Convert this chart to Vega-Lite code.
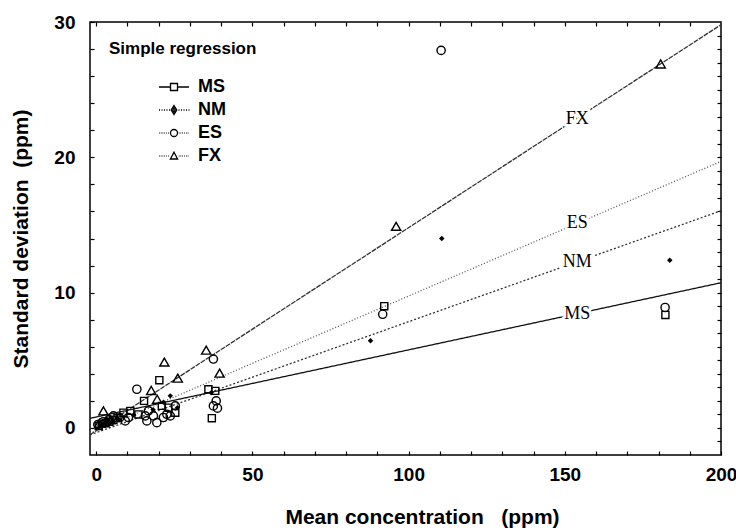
{
  "$schema": "https://vega.github.io/schema/vega-lite/v6.json",
  "width": 631,
  "height": 433,
  "autosize": {"type": "none"},
  "padding": {"left": 90, "top": 22, "right": 15, "bottom": 75},
  "background": "white",
  "config": {
    "view": {"stroke": "black", "strokeWidth": 1.5},
    "font": "Liberation Sans"
  },
  "datasets": {
    "lines": [
      {"series": "MS", "x": -2, "y": 0.71}, {"series": "MS", "x": 200, "y": 10.73},
      {"series": "NM", "x": -2, "y": -0.51}, {"series": "NM", "x": 200, "y": 16.05},
      {"series": "ES", "x": -2, "y": -0.4}, {"series": "ES", "x": 200, "y": 19.7},
      {"series": "FX", "x": -2, "y": -0.5}, {"series": "FX", "x": 200, "y": 29.8}
    ],
    "labels": [
      {"series": "MS", "x": 154, "y": 8.45},
      {"series": "NM", "x": 154, "y": 12.28},
      {"series": "ES", "x": 154, "y": 15.15},
      {"series": "FX", "x": 154, "y": 22.8}
    ],
    "points": [
      {"series": "MS", "x": 0.8, "y": 0.15}, {"series": "MS", "x": 1.8, "y": 0.3}, {"series": "MS", "x": 3, "y": 0.35},
      {"series": "MS", "x": 4.2, "y": 0.45}, {"series": "MS", "x": 5.5, "y": 0.6}, {"series": "MS", "x": 6.8, "y": 0.75},
      {"series": "MS", "x": 8.7, "y": 1.13}, {"series": "MS", "x": 10.9, "y": 1.26}, {"series": "MS", "x": 13.5, "y": 1.0},
      {"series": "MS", "x": 15.3, "y": 2.0}, {"series": "MS", "x": 20.2, "y": 3.53}, {"series": "MS", "x": 21.0, "y": 1.63},
      {"series": "MS", "x": 23.1, "y": 1.5}, {"series": "MS", "x": 25.3, "y": 1.13}, {"series": "MS", "x": 35.9, "y": 2.86},
      {"series": "MS", "x": 38.1, "y": 2.74}, {"series": "MS", "x": 37.0, "y": 0.72}, {"series": "MS", "x": 92.2, "y": 9.0},
      {"series": "MS", "x": 182.2, "y": 8.35},
      {"series": "NM", "x": 1.2, "y": 0.2}, {"series": "NM", "x": 2.6, "y": 0.3}, {"series": "NM", "x": 3.8, "y": 0.45},
      {"series": "NM", "x": 5.2, "y": 0.5}, {"series": "NM", "x": 7.2, "y": 0.65}, {"series": "NM", "x": 12, "y": 0.95},
      {"series": "NM", "x": 18.2, "y": 1.35}, {"series": "NM", "x": 21.5, "y": 1.9}, {"series": "NM", "x": 23.7, "y": 2.37},
      {"series": "NM", "x": 26, "y": 1.5}, {"series": "NM", "x": 36.8, "y": 2.6}, {"series": "NM", "x": 87.8, "y": 6.45},
      {"series": "NM", "x": 110.6, "y": 14.0}, {"series": "NM", "x": 183.6, "y": 12.4},
      {"series": "ES", "x": 0.5, "y": 0.25}, {"series": "ES", "x": 2.2, "y": 0.45}, {"series": "ES", "x": 4.0, "y": 0.6},
      {"series": "ES", "x": 5.5, "y": 0.89}, {"series": "ES", "x": 7.5, "y": 0.75}, {"series": "ES", "x": 9.3, "y": 0.52},
      {"series": "ES", "x": 10.3, "y": 0.77}, {"series": "ES", "x": 13.0, "y": 2.86}, {"series": "ES", "x": 15.7, "y": 0.89},
      {"series": "ES", "x": 16.2, "y": 0.52}, {"series": "ES", "x": 16.7, "y": 1.26}, {"series": "ES", "x": 18.3, "y": 0.89},
      {"series": "ES", "x": 19.4, "y": 0.39}, {"series": "ES", "x": 21.5, "y": 0.77}, {"series": "ES", "x": 22.6, "y": 1.01},
      {"series": "ES", "x": 23.7, "y": 0.89}, {"series": "ES", "x": 25.3, "y": 1.63}, {"series": "ES", "x": 37.5, "y": 5.09},
      {"series": "ES", "x": 38.4, "y": 2.0}, {"series": "ES", "x": 37.5, "y": 1.63}, {"series": "ES", "x": 38.8, "y": 1.46},
      {"series": "ES", "x": 91.7, "y": 8.4}, {"series": "ES", "x": 110.4, "y": 27.9}, {"series": "ES", "x": 182.1, "y": 8.9},
      {"series": "FX", "x": 1.0, "y": 0.35}, {"series": "FX", "x": 2.3, "y": 1.26}, {"series": "FX", "x": 3.3, "y": 0.5},
      {"series": "FX", "x": 4.6, "y": 0.6}, {"series": "FX", "x": 17.6, "y": 2.77}, {"series": "FX", "x": 19.5, "y": 2.12},
      {"series": "FX", "x": 21.8, "y": 4.87}, {"series": "FX", "x": 26.1, "y": 3.68}, {"series": "FX", "x": 35.2, "y": 5.75},
      {"series": "FX", "x": 39.5, "y": 4.05}, {"series": "FX", "x": 96.0, "y": 14.9}, {"series": "FX", "x": 180.7, "y": 26.9}
    ]
  },
  "layer": [
    {
      "data": {"name": "lines"},
      "mark": {"type": "line", "strokeWidth": 1.3, "clip": true},
      "encoding": {
        "x": {
          "field": "x", "type": "quantitative",
          "scale": {"domain": [-2, 200], "nice": false, "zero": false},
          "axis": {
            "orient": "bottom",
            "values": [0, 10, 20, 30, 40, 50, 60, 70, 80, 90, 100, 110, 120, 130, 140, 150, 160, 170, 180, 190, 200],
            "labelExpr": "datum.value % 50 === 0 ? datum.label : ''",
            "labelOverlap": false, "labelFlush": false,
            "tickSize": -4, "tickColor": "black", "tickWidth": 1.2,
            "domain": false, "grid": false,
            "labelFont": "Liberation Sans", "labelFontSize": 19, "labelFontWeight": "bold", "labelColor": "black",
            "labelPadding": 14,
            "title": "Mean concentration\u00a0\u00a0\u00a0(ppm)",
            "titleFont": "Liberation Sans", "titleFontSize": 21, "titleFontWeight": "bold", "titleColor": "black",
            "titlePadding": 22, "titleX": 332
          }
        },
        "y": {
          "field": "y", "type": "quantitative",
          "scale": {"domain": [-2, 30], "nice": false, "zero": false},
          "axis": {
            "orient": "left",
            "values": [0, 2, 4, 6, 8, 10, 12, 14, 16, 18, 20, 22, 24, 26, 28, 30],
            "labelExpr": "datum.value % 10 === 0 ? datum.label : ''",
            "labelOverlap": false, "labelFlush": false,
            "tickSize": -4, "tickColor": "black", "tickWidth": 1.2,
            "domain": false, "grid": false,
            "labelFont": "Liberation Sans", "labelFontSize": 19, "labelFontWeight": "bold", "labelColor": "black",
            "labelPadding": 19,
            "title": "Standard deviation\u00a0\u00a0(ppm)",
            "titleFont": "Liberation Sans", "titleFontSize": 21, "titleFontWeight": "bold", "titleColor": "black",
            "titlePadding": 22
          }
        },
        "strokeDash": {
          "field": "series", "type": "nominal",
          "scale": {"domain": ["MS", "NM", "ES", "FX"], "range": [[1, 0], [2, 2], [1, 2], [5, 1]]},
          "legend": null
        },
        "color": {
          "field": "series", "type": "nominal",
          "scale": {"domain": ["MS", "NM", "ES", "FX"], "range": ["#111111", "#333333", "#555555", "#333333"]},
          "legend": null
        }
      }
    },
    {
      "data": {"name": "points"},
      "transform": [{"filter": "datum.series !== 'NM'"}],
      "mark": {"type": "point", "filled": false, "color": "black", "strokeWidth": 1.4, "opacity": 1},
      "encoding": {
        "x": {
          "field": "x", "type": "quantitative",
          "axis": {
            "orient": "top",
            "values": [0, 10, 20, 30, 40, 50, 60, 70, 80, 90, 100, 110, 120, 130, 140, 150, 160, 170, 180, 190],
            "labels": false, "tickSize": -4, "tickColor": "black", "tickWidth": 1.2,
            "domain": false, "grid": false, "title": null
          }
        },
        "y": {
          "field": "y", "type": "quantitative",
          "axis": {
            "orient": "right",
            "values": [-1, 0, 1, 2, 3, 4, 5, 6, 7, 8, 9, 10, 11, 12, 13, 14, 15, 16, 17, 18, 19, 20, 21, 22, 23, 24, 25, 26, 27, 28, 29],
            "labels": false, "tickSize": -4, "tickColor": "black", "tickWidth": 1.2,
            "domain": false, "grid": false, "title": null
          }
        },
        "shape": {
          "field": "series", "type": "nominal",
          "scale": {"domain": ["MS", "ES", "FX"], "range": ["square", "circle", "triangle-up"]},
          "legend": null
        },
        "size": {
          "field": "series", "type": "nominal",
          "scale": {"domain": ["MS", "ES", "FX"], "range": [50, 85, 60]},
          "legend": null
        }
      }
    },
    {
      "data": {"name": "points"},
      "transform": [{"filter": "datum.series === 'NM'"}],
      "mark": {"type": "point", "shape": "diamond", "filled": true, "color": "black", "size": 30, "opacity": 1},
      "encoding": {
        "x": {"field": "x", "type": "quantitative", "axis": null},
        "y": {"field": "y", "type": "quantitative", "axis": null}
      }
    },
    {
      "data": {"name": "labels"},
      "mark": {"type": "text", "font": "Liberation Serif", "fontSize": 18, "stroke": "white", "strokeWidth": 5, "fill": "white", "align": "center", "baseline": "middle"},
      "encoding": {
        "x": {"field": "x", "type": "quantitative", "axis": null},
        "y": {"field": "y", "type": "quantitative", "axis": null},
        "text": {"field": "series"}
      }
    },
    {
      "data": {"name": "labels"},
      "mark": {"type": "text", "font": "Liberation Serif", "fontSize": 18, "fill": "black", "align": "center", "baseline": "middle"},
      "encoding": {
        "x": {"field": "x", "type": "quantitative", "axis": null},
        "y": {"field": "y", "type": "quantitative", "axis": null},
        "text": {"field": "series"}
      }
    },
    {
      "data": {"name": "lines"},
      "mark": {"type": "point", "filled": false, "color": "black", "opacity": 0},
      "encoding": {
        "x": {"field": "x", "type": "quantitative", "axis": null},
        "y": {"field": "y", "type": "quantitative", "axis": null},
        "shape": {
          "field": "series", "type": "nominal",
          "scale": {
            "domain": ["MS", "NM", "ES", "FX"],
            "range": [
              "M-1.5,0H-0.35M0.35,0H1.5M-0.35,-0.35H0.35V0.35H-0.35Z",
              "M-1.5,0h0.1m0.15,0h0.1m0.15,0h0.1m0.15,0h0.1m0.15,0h0.1M0.45,0h0.1m0.15,0h0.1m0.15,0h0.1m0.15,0h0.1m0.15,0h0.1M0,-0.45L0.28,0L0,0.45L-0.28,0ZM0,-0.2L0.12,0L0,0.2L-0.12,0Z",
              "M-1.5,0h0.06m0.12,0h0.06m0.12,0h0.06m0.12,0h0.06m0.12,0h0.06m0.12,0h0.06M0.48,0h0.06m0.12,0h0.06m0.12,0h0.06m0.12,0h0.06m0.12,0h0.06m0.12,0h0.06M0.35,0A0.35,0.35 0 1 1 -0.35,0A0.35,0.35 0 1 1 0.35,0Z",
              "M-1.5,0h0.06m0.12,0h0.06m0.12,0h0.06m0.12,0h0.06m0.12,0h0.06m0.12,0h0.06M0.48,0h0.06m0.12,0h0.06m0.12,0h0.06m0.12,0h0.06m0.12,0h0.06m0.12,0h0.06M0,-0.38L0.36,0.3L-0.36,0.3Z"
            ]
          },
          "legend": {
            "orient": "none", "legendX": 19, "legendY": 19, "padding": 0,
            "title": "Simple regression",
            "titleFont": "Liberation Sans", "titleFontSize": 17, "titleFontWeight": "bold", "titleColor": "black",
            "titlePadding": 18,
            "symbolSize": 400, "symbolOffset": 54, "symbolOpacity": 1,
            "symbolStrokeColor": "black", "symbolStrokeWidth": 1.3, "symbolFillColor": "transparent",
            "labelFont": "Liberation Sans", "labelFontSize": 18, "labelFontWeight": "bold", "labelColor": "black",
            "labelOffset": 13, "rowPadding": 3
          }
        }
      }
    }
  ],
  "resolve": {
    "axis": {"x": "independent", "y": "independent"},
    "scale": {"shape": "independent", "size": "independent"}
  }
}
